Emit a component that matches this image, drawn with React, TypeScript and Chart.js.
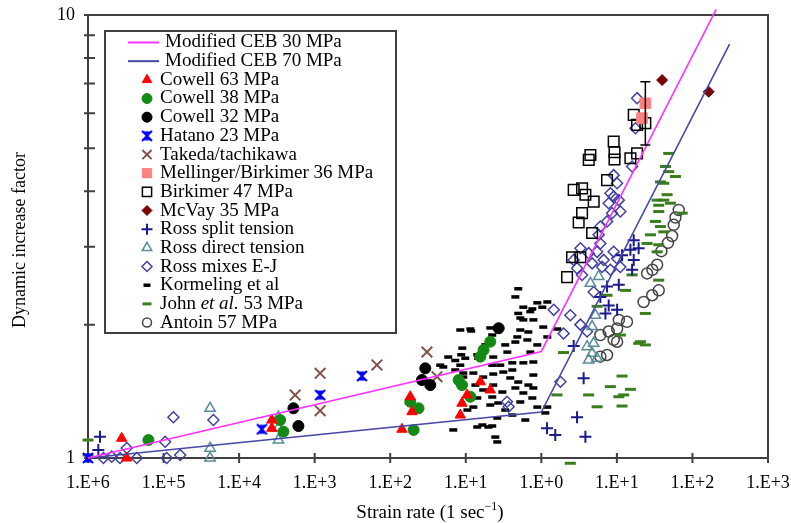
import React, { useEffect, useRef } from 'react';
import { Chart, registerables } from 'chart.js';
import { drawPoint } from 'chart.js/helpers';

Chart.register(...registerables);

type Pt = [number, number];

// Axis ticks
const xTickValues = [1e-6, 1e-5, 1e-4, 1e-3, 1e-2, 1e-1, 1, 10, 100, 1000];
const xTickLabels = ['1.E+6', '1.E+5', '1.E+4', '1.E+3', '1.E+2', '1.E+1', '1.E+0', '1.E+1', '1.E+2', '1.E+3'];
const yTickValues = [1, 2, 3, 4, 5, 6, 7, 8, 9, 10];
const yTickLabels = ['1', '', '', '', '', '', '', '', '', '10'];

// Modified CEB curves (strain rate, DIF)
const ceb30: Pt[] = [[1e-6, 1], [1, 1.74], [206, 10.3]];
const ceb70: Pt[] = [[1e-6, 1], [1, 1.27], [310, 8.6]];

// Test series (strain rate 1/s, dynamic increase factor)
const cowell63: Pt[] = [
  [2.79e-6, 1.108], [3.26e-6, 1.0], [2.71e-4, 1.218], [2.71e-4, 1.167], [1.43e-2, 1.161],
  [1.84e-2, 1.375], [1.94e-2, 1.272], [0.156, 1.486], [0.211, 1.424], [0.104, 1.388],
  [0.0891, 1.329], [0.0846, 1.25],
];
const cowell38: Pt[] = [
  [6.3e-6, 1.098], [3.86e-4, 1.147], [3.49e-4, 1.218], [1.84e-2, 1.34], [2.37e-2, 1.295],
  [2.04e-2, 1.157], [0.211, 1.83], [0.172, 1.753], [0.156, 1.693], [0.0804, 1.5],
  [0.0891, 1.461], [0.115, 1.375],
];
const cowell32: Pt[] = [
  [5.24e-4, 1.295], [6.09e-4, 1.181], [2.91e-2, 1.594], [2.63e-2, 1.5], [3.39e-2, 1.461], [0.272, 1.963],
];
const hatano: Pt[] = [[1e-6, 1.0], [2.0e-4, 1.161], [1.18e-3, 1.387], [4.22e-3, 1.531]];
const takeda: Pt[] = [
  [5.52e-4, 1.387], [1.18e-3, 1.553], [1.18e-3, 1.279], [6.67e-3, 1.622], [3.06e-2, 1.735], [4.16e-2, 1.526],
];
const mellinger: Pt[] = [[23.8, 6.32], [21.5, 5.85]];
const mellingerErrLow = [5.09];
const mellingerErrHigh = [7.07];
const birkimer: Pt[] = [
  [16.7, 5.95], [18.5, 5.65], [23.8, 5.7], [9.07, 5.18], [9.3, 4.9], [9.3, 4.72],
  [4.46, 4.83], [4.24, 4.71], [18.5, 4.87], [15.1, 4.75], [7.41, 4.24], [2.68, 4.03],
  [3.46, 4.06], [3.83, 3.93], [4.93, 3.79], [3.46, 3.57], [3.12, 3.4], [4.7, 3.22],
  [2.55, 2.84], [3.29, 2.84], [2.19, 2.56],
];
const mcvay: Pt[] = [[39.7, 7.13], [164, 6.71]];
const rossSplit: Pt[] = [
  [1.44e-6, 1.117], [1.37e-6, 1.042], [1.19, 1.167], [1.53, 1.127], [2.97, 1.236], [3.83, 1.117],
  [3.63, 1.513], [2.68, 1.79], [16.7, 3.1], [19.4, 2.975], [15.1, 2.95], [16.7, 2.8],
  [15.9, 2.66], [11.7, 2.87], [7.41, 2.44], [10.6, 2.46], [6.04, 2.31], [7.79, 2.21],
  [10.07, 2.16], [7.05, 2.12],
];
const rossDirect: Pt[] = [
  [4.13e-5, 1.295], [4.13e-5, 1.052], [4.13e-5, 1.0], [3.31e-4, 1.236], [3.31e-4, 1.098], [3.31e-4, 1.169],
  [5.74, 2.57], [4.46, 2.48], [5.19, 2.1], [4.7, 1.98], [4.93, 1.815], [4.03, 1.783],
  [4.7, 1.723], [5.47, 1.679], [4.23, 1.664],
];
const rossMixes: Pt[] = [
  [1.6e-6, 1.0], [2.06e-6, 1.007], [2.65e-6, 1.0], [3.26e-6, 1.053], [4.42e-6, 1.0], [1.05e-5, 1.088],
  [1.1e-5, 1.0], [1.66e-5, 1.016], [1.35e-5, 1.236], [4.57e-5, 1.218],
  [18.5, 6.49], [17.6, 5.55], [15.9, 4.55], [9.07, 4.35], [10.07, 4.17], [8.2, 3.96],
  [9.07, 3.89], [10.6, 3.82], [7.79, 3.76], [11.1, 3.6], [8.63, 3.57], [7.41, 3.42],
  [6.04, 3.33], [5.74, 3.19], [6.04, 3.05], [3.29, 2.975], [4.23, 2.9], [5.47, 2.92],
  [2.68, 2.8], [2.97, 2.68], [4.7, 2.75], [6.68, 2.8], [9.07, 2.92], [10.07, 2.82],
  [6.37, 2.7], [8.2, 2.66], [11.1, 2.7], [3.46, 2.59], [4.93, 2.37], [1.46, 2.16],
  [2.42, 2.1], [3.29, 2.0], [1.97, 1.91], [4.03, 1.93], [1.79, 1.486], [0.351, 1.34], [0.369, 1.305],
];
const kormeling: Pt[] = [
  [0.495, 2.41], [0.453, 2.31], [0.578, 2.19], [0.76, 2.17], [1.03, 2.19], [1.2, 2.25], [0.885, 2.24],
  [0.715, 2.14], [0.495, 2.12], [0.527, 2.07], [0.578, 2.05], [0.784, 2.05], [0.286, 1.966], [0.211, 1.966],
  [0.0846, 1.945], [0.118, 1.935], [0.224, 1.895], [0.527, 1.945], [0.673, 1.925], [0.481, 1.876],
  [0.453, 1.827], [0.653, 1.847], [0.885, 1.8], [1.63, 1.955], [0.09, 1.77], [0.0586, 1.69], [0.0726, 1.66],
  [0.0985, 1.68], [0.142, 1.71], [0.146, 1.68], [0.231, 1.69], [0.224, 1.62], [0.286, 1.62], [0.413, 1.64],
  [0.578, 1.64], [0.784, 1.647], [0.413, 1.58], [0.314, 1.563], [0.231, 1.547], [0.17, 1.523], [0.126, 1.555],
  [0.0927, 1.555], [0.0726, 1.58], [0.0504, 1.605], [0.388, 1.516], [0.495, 1.484], [0.673, 1.461],
  [0.784, 1.439], [0.453, 1.439], [0.231, 1.461], [0.17, 1.424], [0.224, 1.373], [0.305, 1.409],
  [0.578, 1.402], [0.76, 1.366], [0.211, 1.317], [0.269, 1.331], [0.142, 1.366], [0.108, 1.388],
  [0.126, 1.303], [0.105, 1.283], [0.885, 1.303], [1.13, 1.264], [1.2, 1.303], [0.166, 1.187],
  [0.224, 1.181], [0.0683, 1.157], [0.142, 1.175], [0.199, 1.175], [0.246, 1.115], [0.261, 1.087],
  [0.261, 1.231], [0.115, 1.955], [0.0459, 1.62], [0.0871, 1.71], [0.0846, 1.62], [0.0927, 1.523],
  [1.06, 1.975], [1.2, 1.876], [0.355, 1.734], [0.715, 1.734], [0.333, 1.8], [0.181, 1.8], [0.134, 1.461],
  [0.333, 1.283], [0.527, 1.338], [0.413, 1.25], [0.614, 1.218], [0.784, 1.539],
];
const john: Pt[] = [
  [48.5, 4.87], [43.9, 4.55], [48.5, 4.43], [59.6, 4.32], [37.7, 4.2], [41.7, 4.17], [46.2, 3.93],
  [41.7, 3.82], [35.8, 3.72], [51.1, 3.76], [34.1, 3.82], [35.8, 3.6], [73.1, 3.57], [32.4, 3.42],
  [37.7, 3.33], [27.8, 3.19], [41.7, 3.24], [25.1, 3.05], [35.8, 3.03], [34.1, 2.92], [15.9, 2.59],
  [35.8, 2.52], [7.41, 2.33], [13, 2.39], [5.47, 2.2], [23.8, 2.12], [19.4, 1.815], [11.1, 1.895],
  [1.97, 1.73], [20.5, 1.83], [23.8, 1.8], [11.7, 1.531], [8.2, 1.449], [15.1, 1.429], [1.61, 1.388],
  [4.23, 1.388], [10.6, 1.375], [12.3, 1.388], [5.47, 1.305], [11.7, 1.31], [2.42, 0.973],
  [1e-6, 1.098], [1e-6, 1.016],
];
const antoin: Pt[] = [
  [65.9, 3.63], [59.6, 3.49], [56.5, 3.36], [53.8, 3.17], [47.4, 3.06], [38.8, 2.93], [34.1, 2.73],
  [29.5, 2.66], [25.1, 2.61], [35.8, 2.39], [29.3, 2.33], [22.6, 2.25], [13.6, 2.03], [10.6, 2.05],
  [10.07, 1.96], [7.79, 1.93], [6.04, 1.895], [9.07, 1.847], [7.41, 1.708], [6.04, 1.693], [10.07, 1.83],
];

const FONT = 'Liberation Serif';
// Target plot-area edges in canvas pixels
const AREA = { left: 88, top: 15, right: 768, bottom: 458 };

const toXY = (pts: Pt[]) => pts.map(([x, y]) => ({ x, y }));

// Scales keep their fixed size and ask for no extra room for overhanging labels
const fixScale = (size: { width?: number; height?: number }) => (s: any) => {
  if (size.width !== undefined) s.width = size.width;
  if (size.height !== undefined) s.height = size.height;
  s.paddingTop = 0;
  s.paddingBottom = 0;
  s.paddingLeft = 0;
  s.paddingRight = 0;
};

function makeHourglass(color: string): HTMLCanvasElement {
  const c = document.createElement('canvas');
  c.width = 12;
  c.height = 12;
  const g = c.getContext('2d')!;
  g.fillStyle = color;
  g.strokeStyle = color;
  g.lineWidth = 2;
  g.beginPath();
  g.moveTo(1, 1.5);
  g.lineTo(11, 1.5);
  g.lineTo(6, 6);
  g.lineTo(11, 10.5);
  g.lineTo(1, 10.5);
  g.lineTo(6, 6);
  g.closePath();
  g.fill();
  g.beginPath();
  g.moveTo(1, 1);
  g.lineTo(11, 11);
  g.moveTo(11, 1);
  g.lineTo(1, 11);
  g.stroke();
  return c;
}

const framePlugin = {
  id: 'frame',
  beforeDatasetsDraw(chart: any) {
    const { ctx, chartArea: a, scales } = chart;
    ctx.save();
    ctx.strokeStyle = '#404040';
    ctx.lineWidth = 2;
    ctx.strokeRect(a.left, a.top, a.right - a.left, a.bottom - a.top);
    ctx.beginPath();
    for (const v of xTickValues) {
      const px = scales.x.getPixelForValue(v);
      ctx.moveTo(px, a.bottom - 5);
      ctx.lineTo(px, a.bottom + 5);
    }
    for (const v of yTickValues) {
      const py = scales.y.getPixelForValue(v);
      ctx.moveTo(a.left - 4, py);
      ctx.lineTo(a.left + 7, py);
    }
    ctx.stroke();
    ctx.restore();
  },
};

const errorBarPlugin = {
  id: 'errorBars',
  afterDatasetsDraw(chart: any) {
    const { ctx, scales } = chart;
    ctx.save();
    ctx.strokeStyle = '#000';
    ctx.lineWidth = 1.5;
    mellingerErrLow.forEach((lo, i) => {
      const px = scales.x.getPixelForValue(mellinger[i][0]);
      const y1 = scales.y.getPixelForValue(lo);
      const y2 = scales.y.getPixelForValue(mellingerErrHigh[i]);
      ctx.beginPath();
      ctx.moveTo(px, y1);
      ctx.lineTo(px, y2);
      ctx.moveTo(px - 5, y1);
      ctx.lineTo(px + 5, y1);
      ctx.moveTo(px - 5, y2);
      ctx.lineTo(px + 5, y2);
      ctx.stroke();
    });
    ctx.restore();
  },
};

const legendPlugin = {
  id: 'boxLegend',
  afterDraw(chart: any) {
    const { ctx } = chart;
    ctx.save();
    // legend box
    ctx.fillStyle = '#fff';
    ctx.fillRect(105, 31, 291, 302);
    ctx.strokeStyle = '#404040';
    ctx.lineWidth = 2;
    ctx.strokeRect(105, 31, 291, 302);

    ctx.textBaseline = 'middle';
    chart.data.datasets.forEach((ds: any, i: number) => {
      const y = 42.5 + i * 18.67;
      let tx = 160;
      if (ds.showLine) {
        ctx.strokeStyle = ds.borderColor;
        ctx.lineWidth = 2;
        ctx.beginPath();
        ctx.moveTo(128, y);
        ctx.lineTo(159, y);
        ctx.stroke();
        tx = 165;
      } else {
        ctx.fillStyle = ds.pointBackgroundColor;
        ctx.strokeStyle = ds.pointBorderColor;
        ctx.lineWidth = ds.pointBorderWidth;
        drawPoint(ctx, {
          pointStyle: ds.pointStyle,
          radius: ds.legendRadius,
          rotation: 0,
          borderWidth: ds.pointBorderWidth,
        } as any, 147, y);
      }
      const label: string = ds.label;
      const parts = label.includes('et al.')
        ? [['John ', false], ['et al.', true], [' 53 MPa', false]]
        : [[label, false]];
      let x = tx;
      ctx.fillStyle = '#000';
      for (const [t, it] of parts as [string, boolean][]) {
        ctx.font = `${it ? 'italic ' : ''}19px "${FONT}"`;
        ctx.fillText(t, x, y);
        x += ctx.measureText(t).width;
      }
    });

    // axis titles
    ctx.fillStyle = '#000';
    ctx.font = `18px "${FONT}"`;
    ctx.save();
    ctx.translate(25, 240);
    ctx.rotate(-Math.PI / 2);
    ctx.textAlign = 'center';
    ctx.textBaseline = 'alphabetic';
    ctx.fillText('Dynamic increase factor', 0, 0);
    ctx.restore();

    ctx.textBaseline = 'alphabetic';
    ctx.textAlign = 'left';
    const main = 'Strain rate (1 sec';
    const sup = '\u22121';
    const tail = ')';
    ctx.font = `19px "${FONT}"`;
    const w1 = ctx.measureText(main).width;
    const w3 = ctx.measureText(tail).width;
    ctx.font = `12px "${FONT}"`;
    const w2 = ctx.measureText(sup).width;
    let x0 = 430 - (w1 + w2 + w3) / 2;
    ctx.font = `19px "${FONT}"`;
    ctx.fillText(main, x0, 518);
    x0 += w1;
    ctx.font = `12px "${FONT}"`;
    ctx.fillText(sup, x0, 510);
    x0 += w2;
    ctx.font = `19px "${FONT}"`;
    ctx.fillText(tail, x0, 518);
    ctx.restore();
  },
};

export default function App() {
  const ref = useRef<HTMLCanvasElement>(null);

  useEffect(() => {
    if (!ref.current) return;
    const hourglass = makeHourglass('#0000ff');
    const marker = (label: string, data: Pt[], style: any, color: string, fill: string, radius: number, bw: number, legendRadius = radius) => ({
      label,
      data: toXY(data),
      showLine: false,
      pointStyle: style,
      pointRadius: radius,
      pointBorderWidth: bw,
      borderWidth: bw,
      borderColor: color,
      backgroundColor: fill,
      pointBorderColor: color,
      pointBackgroundColor: fill,
      legendRadius,
      clip: false as const,
    });
    const line = (label: string, data: Pt[], color: string) => ({
      label,
      data: toXY(data),
      showLine: true,
      borderColor: color,
      backgroundColor: color,
      borderWidth: 1.6,
      pointRadius: 0,
      tension: 0,
      clip: false as const,
    });

    const pad = { left: 0, top: AREA.top, right: 791 - AREA.right, bottom: 0 };
    const options: any = {
      responsive: false,
      animation: false,
      events: [],
      layout: { padding: { ...pad } },
      plugins: {
        legend: { display: false },
        tooltip: { enabled: false },
      },
      scales: {
        x: {
          type: 'logarithmic',
          min: 1e-6,
          max: 1e3,
          afterFit: fixScale({ height: 523 - AREA.bottom }),
          afterBuildTicks: (s: any) => { s.ticks = xTickValues.map((v) => ({ value: v })); },
          grid: { display: false, drawTicks: false },
          border: { display: false },
          ticks: {
            autoSkip: false,
            maxRotation: 0,
            padding: 14,
            color: '#000',
            font: { family: FONT, size: 18 },
            callback: (_v: any, i: number) => xTickLabels[i],
          },
        },
        y: {
          type: 'logarithmic',
          min: 1,
          max: 10,
          afterFit: fixScale({ width: AREA.left }),
          afterBuildTicks: (s: any) => { s.ticks = yTickValues.map((v) => ({ value: v })); },
          grid: { display: false, drawTicks: false },
          border: { display: false },
          ticks: {
            autoSkip: false,
            padding: 13,
            color: '#000',
            font: { family: FONT, size: 18 },
            callback: (_v: any, i: number) => yTickLabels[i],
          },
        },
      },
    };

    const chart = new Chart(ref.current, {
      type: 'scatter',
      data: {
        datasets: [
          line('Modified CEB 30 MPa', ceb30, '#ff33ff'),
          line('Modified CEB 70 MPa', ceb70, '#4848a8'),
          marker('Cowell 63 MPa', cowell63, 'triangle', '#ff0000', '#ff0000', 6, 1, 5.5),
          marker('Cowell 38 MPa', cowell38, 'circle', '#138a13', '#138a13', 5.5, 1, 5),
          marker('Cowell 32 MPa', cowell32, 'circle', '#000000', '#000000', 5.5, 1, 5),
          marker('Hatano 23 MPa', hatano, hourglass, '#0000ff', '#0000ff', 6, 1),
          marker('Takeda/tachikawa', takeda, 'crossRot', '#85524a', '#85524a', 7.5, 2, 6.5),
          marker('Mellinger/Birkimer 36 MPa', mellinger, 'rect', '#ff8080', '#ff8080', 7.5, 1, 6.5),
          marker('Birkimer 47 MPa', birkimer, 'rect', '#000000', 'rgba(255,255,255,0)', 7.5, 1.5, 6.5),
          marker('McVay 35 MPa', mcvay, 'rectRot', '#7a0000', '#7a0000', 5.5, 1, 5),
          marker('Ross split tension', rossSplit, 'cross', '#1a1a8c', '#1a1a8c', 6, 2, 5.5),
          marker('Ross direct tension', rossDirect, 'triangle', '#5a8c9a', 'rgba(255,255,255,0)', 6, 1.5, 5.5),
          marker('Ross mixes E-J', rossMixes, 'rectRot', '#4040a0', 'rgba(255,255,255,0)', 5.5, 1.5, 5),
          marker('Kormeling et al', kormeling, 'line', '#000000', '#000000', 4, 3.5, 3.5),
          marker('John et al. 53 MPa', john, 'line', '#3a7d1e', '#3a7d1e', 5.5, 3, 4.5),
          marker('Antoin 57 MPa', antoin, 'circle', '#454545', 'rgba(255,255,255,0)', 5.5, 1.5, 4.5),
        ] as any,
      },
      options,
      plugins: [framePlugin, errorBarPlugin, legendPlugin],
    });

    // Nudge the layout padding if the plot area did not land on the intended edges
    for (let k = 0; k < 3; k++) {
      const a = chart.chartArea;
      const dTop = AREA.top - a.top;
      const dRight = a.right - AREA.right;
      const dLeft = AREA.left - a.left;
      const dBottom = a.bottom - AREA.bottom;
      if (Math.abs(dTop) + Math.abs(dRight) + Math.abs(dLeft) + Math.abs(dBottom) < 0.5) break;
      pad.top += dTop;
      pad.right += dRight;
      pad.left += dLeft;
      pad.bottom += dBottom;
      (chart.config as any).options.layout.padding = { ...pad };
      chart.update();
    }
    return () => chart.destroy();
  }, []);

  return (
    <div style={{ position: 'absolute', left: 0, top: 0, width: 791, height: 523, background: '#fff' }}>
      <canvas ref={ref} width={791} height={523} style={{ display: 'block' }} />
    </div>
  );
}
